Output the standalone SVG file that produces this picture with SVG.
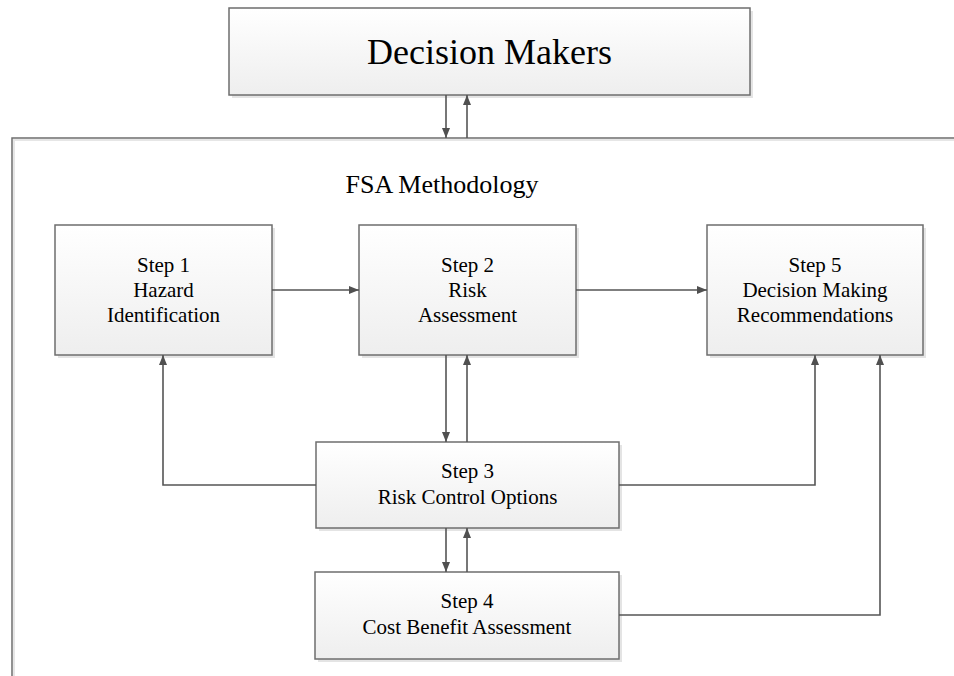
<svg xmlns="http://www.w3.org/2000/svg" width="954" height="676" viewBox="0 0 954 676">
<style>
.box{fill:url(#g);stroke:#6e6e6e;stroke-width:1.5}
.sh{fill:#e4e4e4}
.t{font-family:"Liberation Serif","Times New Roman",serif;fill:#000;text-anchor:middle}
.s{font-size:21px}
.c{fill:none;stroke:#555;stroke-width:1.6}
</style>
<defs>
<linearGradient id="g" x1="0" y1="0" x2="0" y2="1">
<stop offset="0" stop-color="#ffffff"/>
<stop offset="1" stop-color="#eeeeee"/>
</linearGradient>
<marker id="a" viewBox="0 0 10 8" refX="10" refY="4" markerWidth="10" markerHeight="8" markerUnits="userSpaceOnUse" orient="auto">
<path d="M0,0 L10,4 L0,8 Z" fill="#505050"/>
</marker>
</defs>
<rect width="954" height="676" fill="#fff"/>
<g id="frame">
<rect x="14" y="140" width="1000" height="600" fill="none" stroke="#e6e6e6" stroke-width="2"/>
<rect x="12" y="138" width="1000" height="600" fill="none" stroke="#6e6e6e" stroke-width="1.5"/>
<text class="t" x="442" y="193" font-size="26">FSA Methodology</text>
</g>
<g id="decision-makers">
<rect class="sh" x="232" y="11" width="521" height="87"/>
<rect class="box" x="229" y="8" width="521" height="87"/>
<text class="t" x="489.5" y="64" font-size="36">Decision Makers</text>
</g>
<g id="step1">
<rect class="sh" x="58" y="228" width="217" height="130"/>
<rect class="box" x="55" y="225" width="217" height="130"/>
<text class="t s" x="163.5" y="272">Step 1</text>
<text class="t s" x="163.5" y="297">Hazard</text>
<text class="t s" x="163.5" y="322">Identification</text>
</g>
<g id="step2">
<rect class="sh" x="362" y="228" width="217" height="130"/>
<rect class="box" x="359" y="225" width="217" height="130"/>
<text class="t s" x="467.5" y="272">Step 2</text>
<text class="t s" x="467.5" y="297">Risk</text>
<text class="t s" x="467.5" y="322">Assessment</text>
</g>
<g id="step5">
<rect class="sh" x="710" y="228" width="216" height="130"/>
<rect class="box" x="707" y="225" width="216" height="130"/>
<text class="t s" x="815" y="272">Step 5</text>
<text class="t s" x="815" y="297">Decision Making</text>
<text class="t s" x="815" y="322">Recommendations</text>
</g>
<g id="step3">
<rect class="sh" x="319" y="445" width="303" height="86"/>
<rect class="box" x="316" y="442" width="303" height="86"/>
<text class="t s" x="467.5" y="478">Step 3</text>
<text class="t s" x="467.5" y="504">Risk Control Options</text>
</g>
<g id="step4">
<rect class="sh" x="318" y="575" width="304" height="87"/>
<rect class="box" x="315" y="572" width="304" height="87"/>
<text class="t s" x="467" y="608">Step 4</text>
<text class="t s" x="467" y="634">Cost Benefit Assessment</text>
</g>
<g id="connectors">
<path class="c" d="M446,95 V138" marker-end="url(#a)"/>
<path class="c" d="M467,138 V95" marker-end="url(#a)"/>
<path class="c" d="M272,290 H359" marker-end="url(#a)"/>
<path class="c" d="M576,290 H707" marker-end="url(#a)"/>
<path class="c" d="M446,355 V442" marker-end="url(#a)"/>
<path class="c" d="M467,442 V355" marker-end="url(#a)"/>
<path class="c" d="M316,485 H163 V355" marker-end="url(#a)"/>
<path class="c" d="M619,485 H815 V355" marker-end="url(#a)"/>
<path class="c" d="M446,528 V572" marker-end="url(#a)"/>
<path class="c" d="M467,572 V528" marker-end="url(#a)"/>
<path class="c" d="M619,615 H880 V355" marker-end="url(#a)"/>
</g>
</svg>
